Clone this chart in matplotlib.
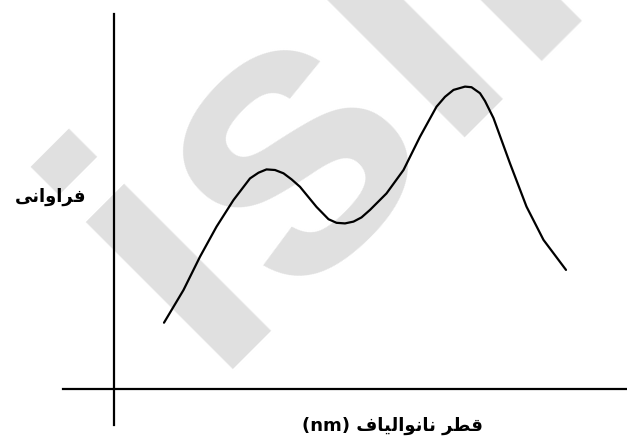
import matplotlib
matplotlib.use('Agg')
import matplotlib.pyplot as plt

# نمودار توزیع قطر نانوالیاف (دو قله)
diameter = [10.0, 13.9, 17.2, 20.5, 23.9, 27.2, 28.9, 30.5, 32.2, 33.9, 35.5, 37.2,
            40.5, 42.9, 44.5, 46.2, 47.9, 49.5, 51.2, 54.5, 57.9, 61.2, 64.5, 66.2,
            67.9, 70.2, 71.5, 73.2, 74.2, 75.9, 79.2, 82.5, 85.9, 90.4]
frequency = [22.1, 33.0, 44.1, 54.1, 63.0, 70.2, 72.1, 73.2, 73.0, 71.9, 69.9, 67.4,
             60.7, 56.6, 55.4, 55.2, 55.8, 57.2, 59.7, 65.2, 73.0, 84.1, 94.1, 97.4,
             99.7, 100.8, 100.6, 98.6, 96.0, 90.3, 75.2, 60.8, 49.7, 39.7]

# متن فارسی به صورت حروف شکل‌دار و ترتیب دیداری (matplotlib شکل‌دهی عربی ندارد)
y_label = '\uFEF0\uFEE7\uFE8D\uFEED\uFE8D\uFEAE\uFED3'  # فراوانی
x_label = '(nm) ' + '\uFED1\uFE8E\uFEF4\uFEDF\uFE8D\uFEEE\uFEE7\uFE8E\uFEE7' + ' ' + '\uFEAE\uFEC4\uFED7'  # قطر نانوالیاف (nm)
watermark = 'isiP'

W, H = 627, 438
fig = plt.figure(figsize=(6.27, 4.38), dpi=100)
ax = fig.add_axes([0, 0, 1, 1])
ax.set_xlim(-22.8, 102.6)
ax.set_ylim(-16.33, 129.67)
ax.axis('off')

# واترمارک
ax.text(206 / W, 1 - 369 / H, watermark, transform=fig.transFigure,
        rotation=45, rotation_mode='anchor', fontsize=284, fontweight='bold',
        family=['Liberation Sans'], color='#e0e0e0', ha='left', va='baseline',
        zorder=0, clip_on=False)

# محورها
ax.plot([-10.2, 102.6], [0, 0], color='black', lw=1.6, zorder=2)
ax.plot([0, 0], [-12, 125], color='black', lw=1.6, zorder=2)

ax.plot(diameter, frequency, color='black', lw=1.6, solid_joinstyle='round',
        solid_capstyle='round', zorder=3)

fig.text(51 / W, 1 - 197 / H, y_label, fontsize=13, fontweight='bold',
         ha='center', va='center', family=['DejaVu Sans'])
fig.text(392 / W, 1 - 426 / H, x_label, fontsize=13, fontweight='bold',
         ha='center', va='center', family=['DejaVu Sans'])

fig.savefig('out.png', dpi=100)
